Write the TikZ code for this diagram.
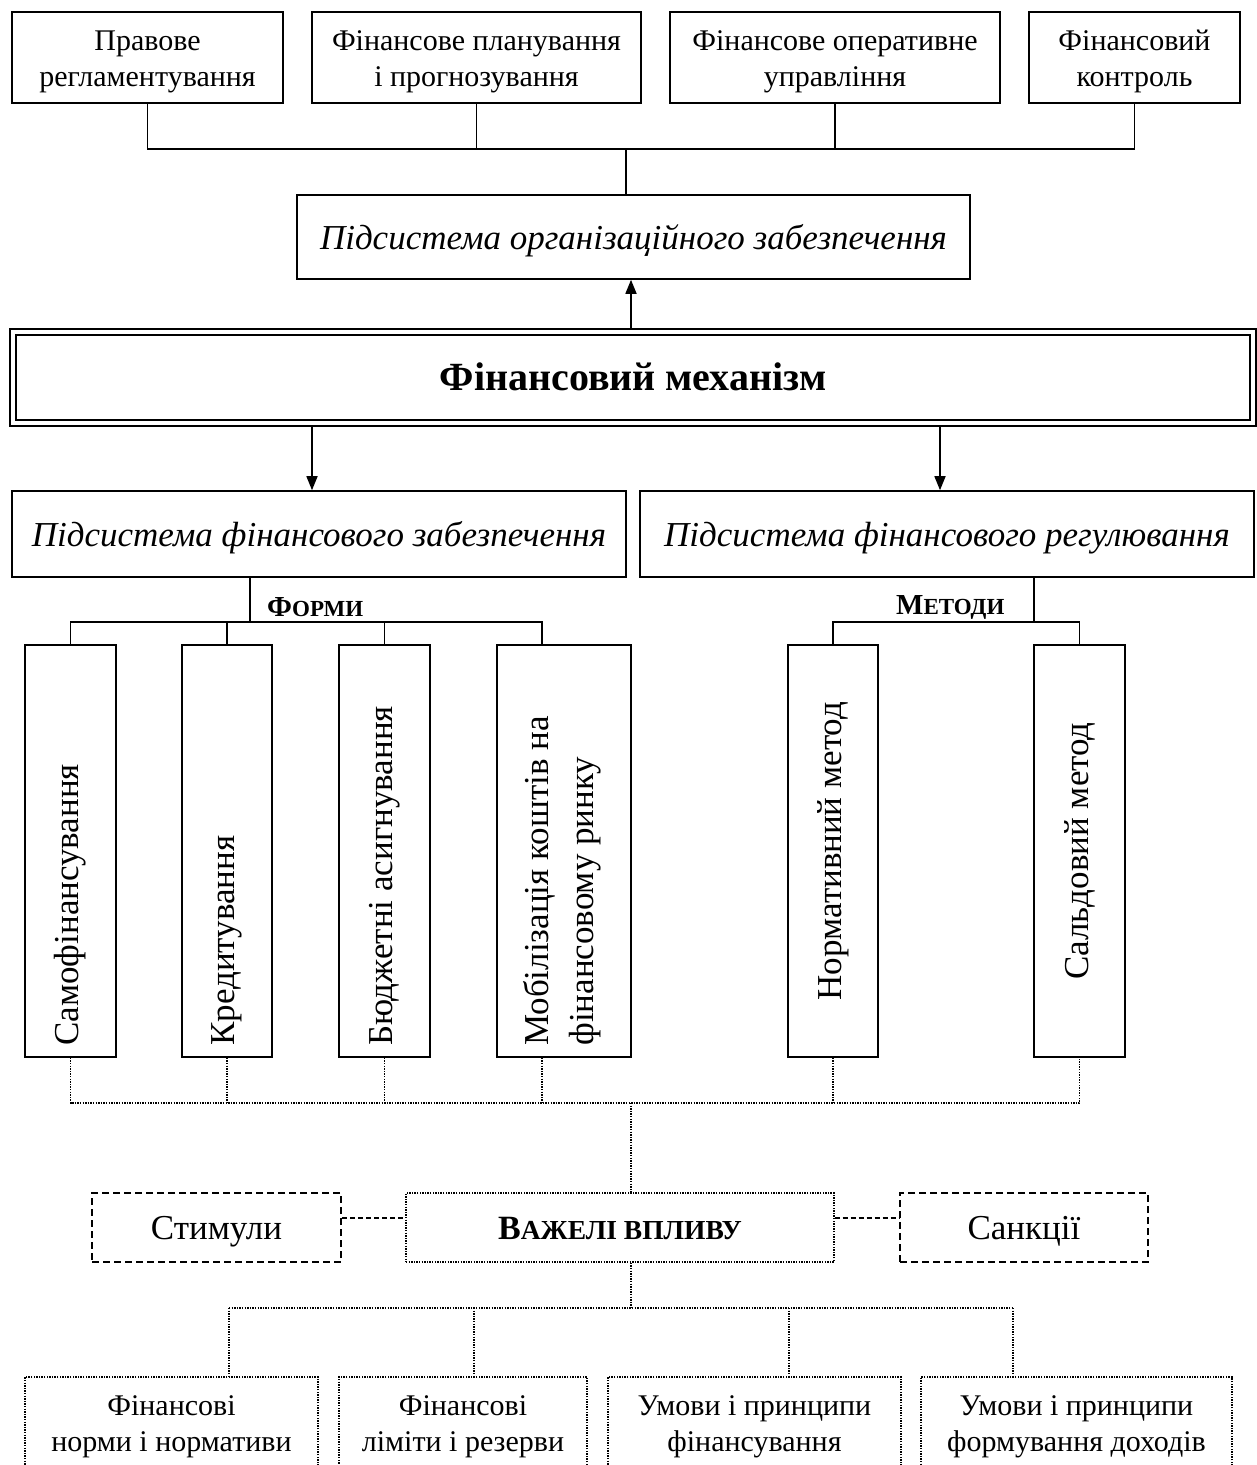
\documentclass[tikz,border=0pt]{standalone}
\usepackage{fontspec}
\setmainfont{Liberation Serif}
\usetikzlibrary{arrows.meta,calc}
\newcommand{\tfnt}{\fontsize{30pt}{36pt}\selectfont}
\newcommand{\ifnt}{\fontsize{35pt}{42pt}\selectfont\itshape}
\newcommand{\bfnt}{\fontsize{40pt}{46pt}\selectfont\bfseries}
\newcommand{\vfnt}{\fontsize{35pt}{45pt}\selectfont}
\newcommand{\sfnt}{\fontsize{35pt}{42pt}\selectfont}
\newcommand{\twol}[1]{\begin{tabular}{@{}c@{}}#1\end{tabular}}
\newcommand{\dnb}[1]{\raisebox{-4pt}[\height][\depth]{#1}}
\tikzset{
  box/.style={draw, line width=1.6pt, inner sep=0pt, align=center},
  dotbox/.style={draw, line width=1.4pt, dash pattern=on 1.4pt off 1.2pt, inner sep=0pt, align=center},
  dashbox/.style={draw, line width=2pt, dash pattern=on 7pt off 4pt, inner sep=0pt, align=center},
  conn/.style={line width=1.6pt},
  dotconn/.style={line width=1.4pt, dash pattern=on 1.4pt off 1.2pt},
  dashconn/.style={line width=2pt, dash pattern=on 5pt off 3pt},
  arr/.style={conn, -{Triangle[length=14pt,width=11pt]}},
  vtext/.style={rotate=90, inner sep=0pt, font=\vfnt}
}
\begin{document}
\begin{tikzpicture}[x=1pt,y=-1pt]
\useasboundingbox (0,0) rectangle (1257,1465);
\fill[white] (0,0) rectangle (1257,1465);
\clip (0,0) rectangle (1257,1465);

% top boxes
\node[box, minimum width=271pt, minimum height=91pt, font=\tfnt] (t1) at (147.5,57.5) {\dnb{\twol{Правове\\регламентування}}};
\node[box, minimum width=329pt, minimum height=91pt, font=\tfnt] (t2) at (476.5,57.5) {\dnb{\twol{Фінансове планування\\і прогнозування}}};
\node[box, minimum width=330pt, minimum height=91pt, font=\tfnt] (t3) at (835,57.5) {\dnb{\twol{Фінансове оперативне\\управління}}};
\node[box, minimum width=211pt, minimum height=91pt, font=\tfnt] (t4) at (1134.5,57.5) {\dnb{\twol{Фінансовий\\контроль}}};

\node[box, minimum width=673pt, minimum height=84pt, font=\ifnt] (org) at (633.5,237) {\dnb{\strut Підсистема організаційного забезпечення}};

\coordinate (bus1) at (626,149);
\draw[conn] (t1.south) |- (t4.south |- bus1) -- (t4.south);
\draw[conn] (t2.south) -- (t2.south |- bus1);
\draw[conn] (t3.south) -- (t3.south |- bus1);
\draw[conn] (bus1) -- (bus1 |- org.north);

% mechanism
\node[draw, double, double distance=4.2pt, line width=1.8pt, minimum width=1240pt, minimum height=91pt, inner sep=0pt, font=\bfnt] (mech) at (633,377.5) {\dnb{\strut Фінансовий механізм}};

\coordinate (ax) at (631,0);
\coordinate (ax1) at (312,0);
\coordinate (ax2) at (940,0);
\draw[arr] ($(mech.north -| ax)+(0,-3)$) -- (org.south -| ax);

\node[box, minimum width=614pt, minimum height=86pt, font=\ifnt] (zab) at (319,534) {\dnb{\strut Підсистема фінансового забезпечення}};
\node[box, minimum width=614pt, minimum height=86pt, font=\ifnt] (reg) at (947,534) {\dnb{\strut Підсистема фінансового регулювання}};

\draw[arr] ($(mech.south -| ax1)+(0,3)$) -- (zab.north -| ax1);
\draw[arr] ($(mech.south -| ax2)+(0,3)$) -- (reg.north -| ax2);

% vertical boxes
\node[box, minimum width=91pt, minimum height=412pt] (f1) at (70.5,851) {};
\node[box, minimum width=90pt, minimum height=412pt] (f2) at (227,851) {};
\node[box, minimum width=91pt, minimum height=412pt] (f3) at (384.5,851) {};
\node[box, minimum width=134pt, minimum height=412pt] (f4) at (564,851) {};
\node[box, minimum width=90pt, minimum height=412pt] (m1) at (833,851) {};
\node[box, minimum width=91pt, minimum height=412pt] (m2) at (1079.5,851) {};

\node[vtext, anchor=west] (f1t) at ($(f1.south)+(0,-12)$) {Самофінансування};
\node[vtext, anchor=west] (f2t) at ($(f2.south)+(0,-12)$) {Кредитування};
\node[vtext, anchor=west] (f3t) at ($(f3.south)+(0,-12)$) {Бюджетні асигнування};
\node[vtext, anchor=west, align=left] (f4t) at ($(f4.south)+(-2,-12)$) {Мобілізація коштів на\\фінансовому ринку};
\node[vtext] (m1t) at (m1.center) {Нормативний метод};
\node[vtext] (m2t) at (m2.center) {Сальдовий метод};

% forms connectors
\coordinate (fx) at (250,622);
\coordinate (f4in) at (542,0);
\draw[conn] (zab.south -| fx) -- (fx);
\draw[conn] (f1.north) -- (f1.north |- fx) -- (fx -| f4in) -- (f4.north -| f4in);
\draw[conn] (f2.north) -- (f2.north |- fx);
\draw[conn] (f3.north) -- (f3.north |- fx);
\node[inner sep=0pt, anchor=west, font=\bfseries] (formy) at (267,607) {{\fontsize{29pt}{32pt}\selectfont Ф}{\fontsize{23pt}{26pt}\selectfont ОРМИ}};

% methods connectors
\coordinate (mx) at (1034,622);
\draw[conn] (reg.south -| mx) -- (mx);
\draw[conn] (m1.north) |- (m2.north |- mx) -- (m2.north);
\node[inner sep=0pt, anchor=west, font=\bfseries] (metody) at (896,607) {{\fontsize{29pt}{32pt}\selectfont М}{\fontsize{23pt}{26pt}\selectfont ЕТОДИ}};

% dotted bus
\coordinate (dx) at (631,1103);
\draw[dotconn] (f1.south) -- (f1.south |- dx) -- (dx -| m2.south) -- (m2.south);
\draw[dotconn] (f2.south) -- (f2.south |- dx);
\draw[dotconn] (f3.south) -- (f3.south |- dx);
\draw[dotconn] (f4.south -| f4in) -- (dx -| f4in);
\draw[dotconn] (m1.south) -- (m1.south |- dx);

% levers
\node[dotbox, minimum width=428pt, minimum height=69pt, font=\bfseries] (vaz) at (620,1227.5) {\dnb{\fontsize{34pt}{41pt}\selectfont\strut В{\fontsize{27.5pt}{33pt}\selectfont АЖЕЛІ ВПЛИВУ}}};
\node[dashbox, minimum width=249pt, minimum height=69pt, font=\sfnt] (stim) at (216.5,1227.5) {\dnb{\strut Стимули}};
\node[dashbox, minimum width=248pt, minimum height=69pt, font=\sfnt] (sank) at (1024,1227.5) {\dnb{\strut Санкції}};
\draw[dotconn] (dx) -- (dx |- vaz.north);
\draw[dashconn] ($(stim.east)+(0,-10)$) -- ($(vaz.west)+(0,-10)$);
\draw[dashconn] ($(vaz.east)+(0,-10)$) -- ($(sank.west)+(0,-10)$);

% bottom boxes
\node[dotbox, minimum width=293pt, minimum height=100pt, font=\tfnt] (b1) at (171.5,1427) {Фінансові\\норми і нормативи};
\node[dotbox, minimum width=248pt, minimum height=100pt, font=\tfnt] (b2) at (463,1427) {Фінансові\\ліміти і резерви};
\node[dotbox, minimum width=293pt, minimum height=100pt, font=\tfnt] (b3) at (754.5,1427) {Умови і принципи\\фінансування};
\node[dotbox, minimum width=311pt, minimum height=100pt, font=\tfnt] (b4) at (1076.5,1427) {Умови і принципи\\формування доходів};

\coordinate (bx) at (631,1308);
\coordinate (d1) at (229,1308);
\coordinate (d2) at (474,1308);
\coordinate (d3) at (789,1308);
\coordinate (d4) at (1013,1308);
\draw[dotconn] (vaz.south -| bx) -- (bx);
\draw[dotconn] (d1) -- (d4);
\draw[dotconn] (d1) -- (d1 |- b1.north);
\draw[dotconn] (d2) -- (d2 |- b2.north);
\draw[dotconn] (d3) -- (d3 |- b3.north);
\draw[dotconn] (d4) -- (d4 |- b4.north);
\end{tikzpicture}
\end{document}
